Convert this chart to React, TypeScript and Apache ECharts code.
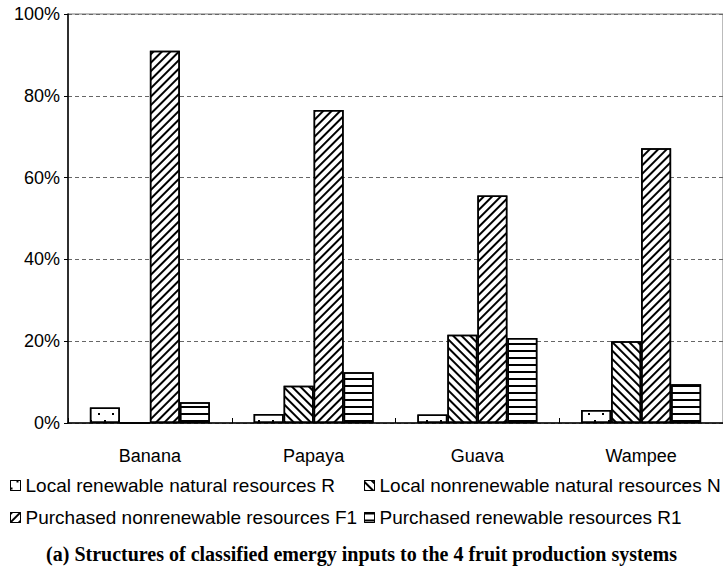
import React, { useEffect, useRef } from "react";
import * as echarts from "echarts";

const categories = ["Banana", "Papaya", "Guava", "Wampee"];
const seriesNames = [
  "Local renewable natural resources R",
  "Local nonrenewable natural resources N",
  "Purchased nonrenewable resources F1",
  "Purchased renewable resources R1",
];
const valuesR = [3.8, 2.2, 2.1, 3.2];
const valuesN = [0, 9.1, 21.6, 20.0];
const valuesF1 = [91.0, 76.5, 55.6, 67.2];
const valuesR1 = [5.1, 12.4, 20.8, 9.5];
const yTicks = [0, 20, 40, 60, 80, 100];
const titleText = "(a) Structures of classified emergy inputs to the 4 fruit production systems";

const SANS = "'Liberation Sans', Arial, sans-serif";
const SERIF = "'Liberation Serif', 'Times New Roman', serif";

export default function App() {
  const ref = useRef<HTMLDivElement>(null);
  useEffect(() => {
    if (!ref.current) return;
    const chart = echarts.init(ref.current, undefined, { renderer: "svg" });
    const decals: any[] = [
      { symbol: "rect", symbolSize: 1, dashArrayX: [[1.5, 12], [0, 6, 1.5, 6]], dashArrayY: [1.5, 5], color: "#000", rotation: 0 },
      { symbol: "rect", symbolSize: 1, dashArrayX: [1, 0], dashArrayY: [1.1, 3.2], color: "#000", rotation: Math.PI / 4 },
      { symbol: "rect", symbolSize: 1, dashArrayX: [1, 0], dashArrayY: [1.1, 3.2], color: "#000", rotation: -Math.PI / 4 },
      { symbol: "rect", symbolSize: 1, dashArrayX: [1, 0], dashArrayY: [1.2, 5], color: "#000", rotation: 0 },
    ];
    const vals = [valuesR, valuesN, valuesF1, valuesR1];
    const legendPos = [
      { left: 10, top: 476 },
      { left: 364, top: 476 },
      { left: 10, top: 508 },
      { left: 364, top: 508 },
    ];
    const option: any = {
      animation: false,
      backgroundColor: "#fff",
      title: {
        text: titleText,
        left: "center",
        top: 539,
        textStyle: { fontFamily: SERIF, fontWeight: "bold", fontSize: 20, color: "#000" },
      },
      legend: seriesNames.map((n, i) => ({
        data: [n],
        left: legendPos[i].left,
        top: legendPos[i].top,
        orient: "horizontal",
        icon: "rect",
        itemWidth: 10,
        itemHeight: 10,
        itemGap: 0,
        padding: 0,
        selectedMode: false,
        textStyle: { fontFamily: SANS, fontSize: 19, color: "#000", padding: [0, 0, 0, 0] },
        itemStyle: { borderColor: "#000", borderWidth: 1 },
      })),
      grid: {
        left: 68,
        top: 14,
        right: -2,
        bottom: 147,
        show: true,
        borderColor: "#777",
        borderWidth: 1,
      },
      xAxis: {
        type: "category",
        data: categories,
        axisLine: { lineStyle: { color: "#000", width: 1.5 } },
        axisTick: { show: true, inside: true, length: 5, lineStyle: { color: "#000" } },
        axisLabel: { margin: 24, fontFamily: SANS, fontSize: 18, color: "#000" },
      },
      yAxis: {
        type: "value",
        min: 0,
        max: 100,
        interval: 20,
        axisLine: { show: true, lineStyle: { color: "#000", width: 1.5 } },
        axisTick: { show: true, length: 4, lineStyle: { color: "#000" } },
        axisLabel: {
          margin: 8,
          fontFamily: SANS,
          fontSize: 18,
          color: "#000",
          formatter: (v: number) => (yTicks.includes(v) ? v + "%" : ""),
        },
        splitLine: { show: true, lineStyle: { color: "#666", type: [4, 3], width: 1 } },
      },
      series: seriesNames.map((n, i) => ({
        name: n,
        type: "bar",
        data: vals[i],
        barWidth: 30,
        barGap: "0%",
        itemStyle: { color: "#fff", borderColor: "#000", borderWidth: 1.5, decal: decals[i] },
      })),
    };
    chart.setOption(option);
    return () => chart.dispose();
  }, []);
  return (
    <div
      ref={ref}
      style={{ position: "fixed", left: 0, top: 0, width: 723, height: 570, background: "#fff" }}
    />
  );
}
